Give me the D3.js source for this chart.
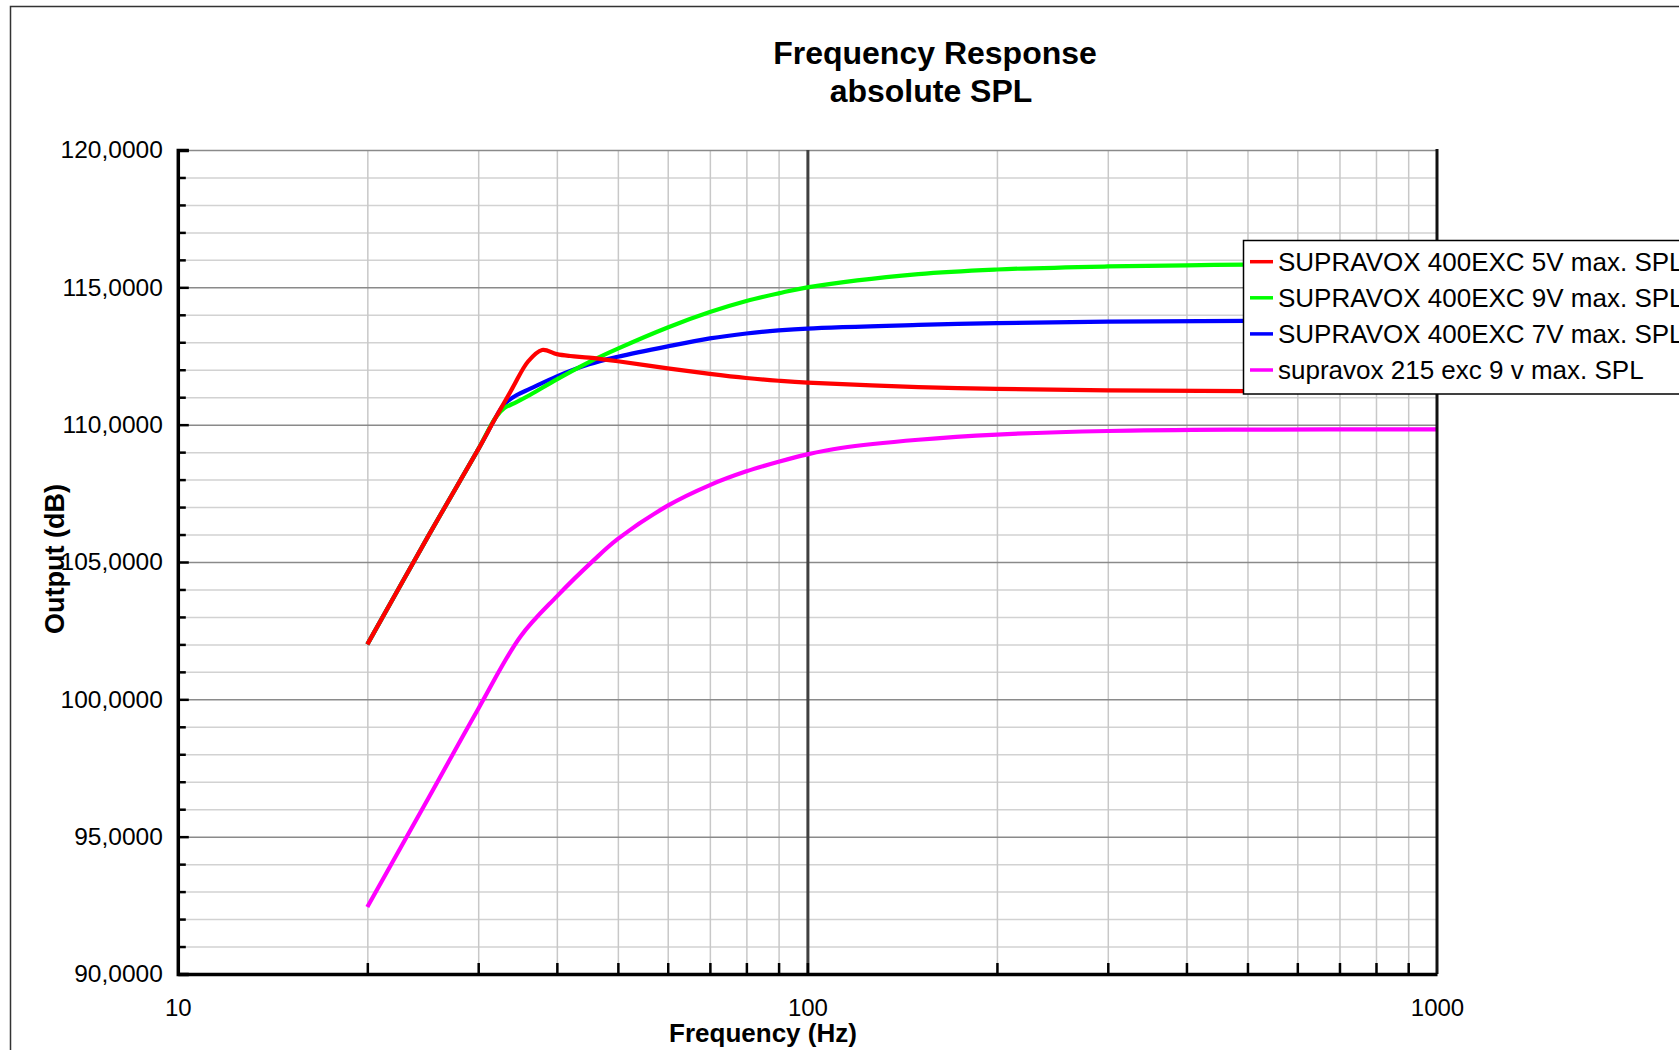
<!DOCTYPE html>
<html><head><meta charset="utf-8">
<script src="https://cdn.jsdelivr.net/npm/d3@7"></script>
<style>body{margin:0;background:#fff;overflow:hidden} text{font-family:"Liberation Sans",Arial,sans-serif;fill:#000}</style>
</head><body><svg id="c" width="1679" height="1050"></svg>
<script>
// ---- data ----
const seriesNames = [
  "SUPRAVOX 400EXC 5V max. SPL",
  "SUPRAVOX 400EXC 9V max. SPL",
  "SUPRAVOX 400EXC 7V max. SPL",
  "supravox 215 exc 9 v max. SPL"
];
const seriesColors = ["#ff0000", "#00ff00", "#0000ff", "#ff00ff"];

const red5V_f  = [20, 25, 30, 32, 34, 36, 37.9, 40, 42, 45, 50, 60, 70, 80, 90, 100, 150, 200, 300, 500, 1000];
const red5V_db = [102.0, 105.95, 109.1, 110.27, 111.33, 112.3, 112.72, 112.57, 112.5, 112.44, 112.31, 112.05, 111.85, 111.7, 111.6, 111.53, 111.37, 111.3, 111.25, 111.22, 111.2];

const green9V_f  = [20, 25, 30, 32, 33, 34.5, 36.3, 40, 45, 50, 60, 70, 80, 90, 100, 150, 200, 300, 400, 500, 700, 1000];
const green9V_db = [102.0, 105.95, 109.1, 110.27, 110.6, 110.82, 111.09, 111.65, 112.28, 112.77, 113.54, 114.1, 114.5, 114.78, 115.0, 115.48, 115.65, 115.76, 115.8, 115.83, 115.85, 115.86];

const blue7V_f  = [20, 25, 30, 32, 33, 34.5, 36.3, 40, 45, 50, 60, 70, 80, 90, 100, 150, 200, 300, 500, 1000];
const blue7V_db = [102.0, 105.95, 109.1, 110.27, 110.75, 111.07, 111.31, 111.76, 112.2, 112.47, 112.85, 113.14, 113.32, 113.43, 113.5, 113.63, 113.7, 113.75, 113.78, 113.8];

const mag215_f  = [20, 25, 30, 35, 40, 45.7, 50, 60, 70, 80, 90, 100, 113, 150, 200, 300, 500, 1000];
const mag215_db = [92.44, 96.4, 99.65, 102.28, 103.75, 105.05, 105.84, 107.05, 107.8, 108.3, 108.65, 108.92, 109.15, 109.45, 109.64, 109.77, 109.82, 109.83];

const xTickLabels = [10, 100, 1000];
const xMinorTicks = [20, 30, 40, 50, 60, 70, 80, 90, 200, 300, 400, 500, 600, 700, 800, 900];
const yTickLabels = [90, 95, 100, 105, 110, 115, 120];
const yMinorTicks = d3.range(91, 120).filter(v => v % 5 !== 0);

// ---- layout ----
const svg = d3.select("#c");
const P = {left: 177.8, right: 1437, top: 150, bottom: 974};
const x = d3.scaleLog().domain([10, 1000]).range([P.left, P.right]);
const y = d3.scaleLinear().domain([90, 120]).range([P.bottom, P.top]);
const PW = P.right - P.left, PH = P.bottom - P.top;

svg.append("rect").attr("width", 1679).attr("height", 1050).attr("fill", "#fff");
// outer frame
svg.append("path").attr("d", "M1679,6.5H10.5V1050").attr("fill", "none").attr("stroke", "#333").attr("stroke-width", 1.5);

// grid: horizontal minor
svg.append("g").attr("transform", `translate(${P.left},0)`)
  .call(d3.axisLeft(y).tickValues(yMinorTicks).tickSize(-PW).tickFormat(""))
  .call(g => g.select(".domain").remove())
  .call(g => g.selectAll("line").attr("stroke", "#d2d2d2").attr("stroke-width", 1.5));
// grid: vertical minor
svg.append("g").attr("transform", `translate(0,${P.bottom})`)
  .call(d3.axisBottom(x).tickValues(xMinorTicks).tickSize(-PH).tickFormat(""))
  .call(g => g.select(".domain").remove())
  .call(g => g.selectAll("line").attr("stroke", "#c8c8c8").attr("stroke-width", 1.5));
// grid: horizontal major
svg.append("g").attr("transform", `translate(${P.left},0)`)
  .call(d3.axisLeft(y).tickValues(yTickLabels).tickSize(-PW).tickFormat(""))
  .call(g => g.select(".domain").remove())
  .call(g => g.selectAll("line").attr("stroke", "#8a8a8a").attr("stroke-width", 1.5));
// grid: 100 Hz decade line
svg.append("g").attr("transform", `translate(0,${P.bottom})`)
  .call(d3.axisBottom(x).tickValues([100]).tickSize(-PH).tickFormat(""))
  .call(g => g.select(".domain").remove())
  .call(g => g.selectAll("line").attr("stroke", "#404040").attr("stroke-width", 3));

// series lines
const lineGen = d3.line().x(d => x(d[0])).y(d => y(d[1])).curve(d3.curveCatmullRom.alpha(0.5));
const series = [
  {f: red5V_f, db: red5V_db, c: seriesColors[0]},
  {f: green9V_f, db: green9V_db, c: seriesColors[1]},
  {f: blue7V_f, db: blue7V_db, c: seriesColors[2]},
  {f: mag215_f, db: mag215_db, c: seriesColors[3]}
];
const drawOrder = [3, 2, 1, 0];
drawOrder.forEach(i => {
  const s = series[i];
  svg.append("path").datum(s.f.map((f, k) => [f, s.db[k]]))
    .attr("d", lineGen).attr("fill", "none").attr("stroke", s.c)
    .attr("stroke-width", 4.2).attr("stroke-linejoin", "round");
});

// right frame line
svg.append("line").attr("x1", P.right).attr("x2", P.right).attr("y1", P.top - 1).attr("y2", P.bottom)
  .attr("stroke", "#111").attr("stroke-width", 3);

// left axis ticks (inward)
svg.append("g").attr("transform", `translate(${P.left},0)`)
  .call(d3.axisLeft(y).tickValues(yMinorTicks).tickSize(-8).tickFormat(""))
  .call(g => g.select(".domain").remove())
  .call(g => g.selectAll("line").attr("stroke", "#000").attr("stroke-width", 2.5));
svg.append("g").attr("transform", `translate(${P.left},0)`)
  .call(d3.axisLeft(y).tickValues(yTickLabels).tickSize(-11).tickPadding(15)
        .tickFormat(d => d.toFixed(4).replace(".", ",")))
  .call(g => g.select(".domain").attr("stroke", "#000").attr("stroke-width", 3.5))
  .call(g => g.selectAll("line").attr("stroke", "#000").attr("stroke-width", 2.5))
  .call(g => g.selectAll("text").attr("font-size", 24.5).attr("fill", "#000"));

// bottom axis
svg.append("g").attr("transform", `translate(0,${P.bottom})`)
  .call(d3.axisBottom(x).tickValues(xMinorTicks.concat([100])).tickSize(-11).tickFormat(""))
  .call(g => g.select(".domain").remove())
  .call(g => g.selectAll("line").attr("stroke", "#000").attr("stroke-width", 2.5));
svg.append("g").attr("transform", `translate(0,${P.bottom})`)
  .call(d3.axisBottom(x).tickValues(xTickLabels).tickSize(0).tickPadding(25).tickFormat(d3.format("d")))
  .call(g => g.select(".domain").attr("stroke", "#000").attr("stroke-width", 3.5))
  .call(g => g.selectAll("text").attr("font-size", 24).attr("fill", "#000"));

// titles
svg.append("text").attr("x", 935).attr("y", 64).attr("text-anchor", "middle")
  .attr("font-size", 32).attr("font-weight", "bold").text("Frequency Response");
svg.append("text").attr("x", 931).attr("y", 102).attr("text-anchor", "middle")
  .attr("font-size", 32).attr("font-weight", "bold").text("absolute SPL");
svg.append("text").attr("x", 763).attr("y", 1042).attr("text-anchor", "middle")
  .attr("font-size", 26).attr("font-weight", "bold").text("Frequency (Hz)");
svg.append("text").attr("transform", "translate(55,559) rotate(-90)").attr("text-anchor", "middle")
  .attr("dy", "0.35em").attr("font-size", 27).attr("font-weight", "bold").text("Output (dB)");

// legend
const lg = svg.append("g").attr("transform", "translate(1243.5,240.5)");
lg.append("rect").attr("width", 460).attr("height", 153.5).attr("fill", "#fff")
  .attr("stroke", "#000").attr("stroke-width", 1.5);
const rowY = d3.scaleLinear().domain([0, 3]).range([21.2, 129.5]);
seriesNames.forEach((n, i) => {
  lg.append("line").attr("x1", 6.5).attr("x2", 29.5).attr("y1", rowY(i)).attr("y2", rowY(i))
    .attr("stroke", seriesColors[i]).attr("stroke-width", 3.5);
  lg.append("text").attr("x", 34.5).attr("y", rowY(i)).attr("dy", "0.36em")
    .attr("font-size", 26).text(n);
});
</script></body></html>
